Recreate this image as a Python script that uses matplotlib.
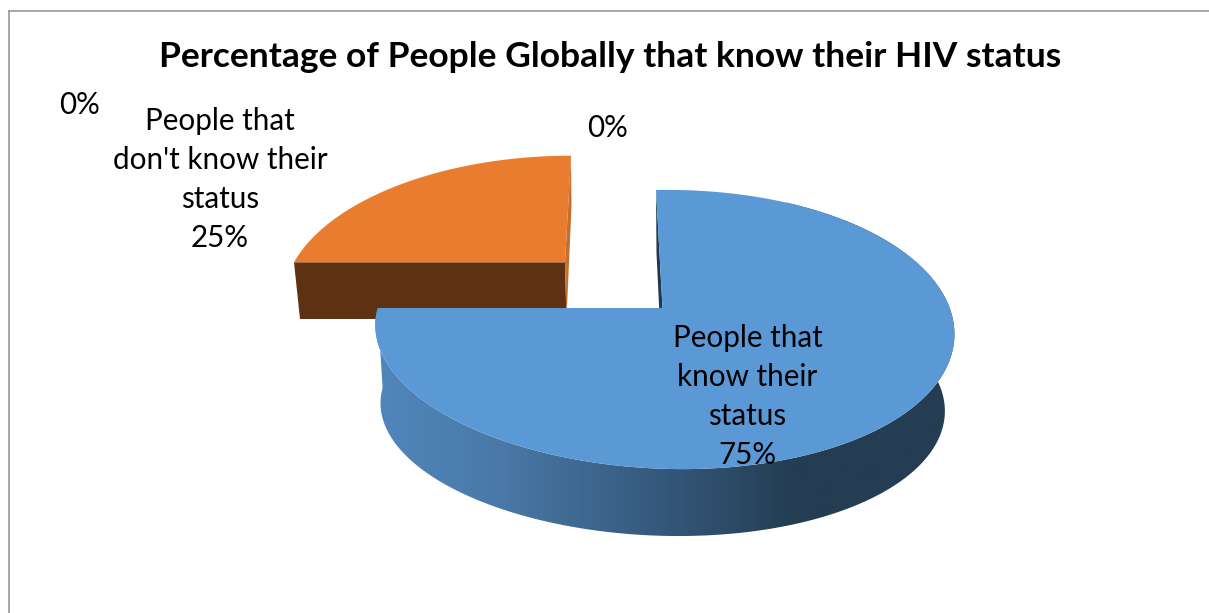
import numpy as np
import matplotlib
matplotlib.use("Agg")
import matplotlib.pyplot as plt
from matplotlib.colors import LinearSegmentedColormap
from matplotlib.patches import Polygon

title = "Percentage of People Globally that know their HIV status"
categories = ["People that\nknow their\nstatus", "People that\ndon't know their\nstatus", "", ""]
values = [75, 25, 0, 0]

plt.rcParams["font.family"] = ["Lato", "DejaVu Sans"]

fig = plt.figure(figsize=(12.09, 6.13), dpi=100)
ax = fig.add_axes([0, 0, 1, 1])
ax.set_xlim(0, 1209)
ax.set_ylim(613, 0)
ax.axis("off")


# perspective view of a flat disc, theta runs clockwise from 12 o'clock
def surface(theta, apex, rx, far, near, lean, side=0.0, roll=0.0):
    a = (near - far) / (near + far)
    ry = far * (1 + a)
    u = np.sin(theta)
    v = np.cos(theta)
    s = 1 / (1 + a * v + side * u)
    return apex[0] + (rx * u + lean * (1 + a) * v) * s, apex[1] - ry * v * s * (1 + roll * u)


# wrapped data label, one baseline per line
def data_label(x, y, category, value):
    lines = category.split("\n") if category else []
    lines.append(f"{value}%")
    for i, line in enumerate(lines):
        ax.text(x, y + 39 * i, line, fontsize=21.3, ha="center", va="baseline", color="black", zorder=8)


blue_top = dict(apex=(662.5, 308), rx=286, far=118, near=161, lean=-6.5, side=-0.004, roll=0.035)
blue_bot = dict(apex=(663, 388), rx=279, far=110, near=148, lean=-6.5, side=0.005, roll=0.03)
orange_top = dict(apex=(565, 262.3), rx=271, far=106.6, near=177, lean=6)
orange_bot = dict(apex=(566.5, 319), rx=266.5, far=112, near=177, lean=5)

# slice angles come from the shares
edges = np.cumsum([0] + values[:2]) / sum(values) * 2 * np.pi
blue_t = np.linspace(edges[0], edges[1], 300)
orange_t = np.linspace(edges[1], edges[2], 120)

# orange slice first, it sits behind the blue one
x0, y0 = surface(orange_t[0], **orange_top)
x1, y1 = surface(orange_t[0], **orange_bot)
ax.add_patch(Polygon([(x0, y0), (x1, y1), orange_bot["apex"], orange_top["apex"]],
                     closed=True, fc="#5f3113", ec="none", zorder=2))
x0, y0 = surface(orange_t[-1], **orange_top)
x1, y1 = surface(orange_t[-1], **orange_bot)
ax.add_patch(Polygon([(x0, y0), (x1, y1), orange_bot["apex"], orange_top["apex"]],
                     closed=True, fc="#c4702f", ec="none", zorder=2))
xs, ys = surface(orange_t, **orange_top)
ax.add_patch(Polygon(np.column_stack([np.r_[orange_top["apex"][0], xs], np.r_[orange_top["apex"][1], ys]]),
                     closed=True, fc="#ea7c30", ec="none", zorder=3))

# outer wall of the blue slice, shaded left to right
# the part near 12 o'clock is behind the top face, so it starts further round
wall_t = blue_t[blue_t > np.pi / 6]
xt, yt = surface(wall_t, **blue_top)
xb, yb = surface(wall_t, **blue_bot)
wall = Polygon(np.column_stack([np.r_[xt, xb[::-1]], np.r_[yt, yb[::-1]]]),
               closed=True, fc="none", ec="none", transform=ax.transData)
ax.add_patch(wall)
shade = LinearSegmentedColormap.from_list("wall", [
    (0.0, "#5087bc"), (0.21, "#4a79a8"), (0.49, "#35597c"), (0.72, "#243d53"), (1.0, "#243d53")])
img = ax.imshow(np.linspace(0, 1, 256).reshape(1, -1), cmap=shade, aspect="auto",
                extent=(375, 955, 545, 180), zorder=4)
img.set_clip_path(wall)
ax.set_xlim(0, 1209)
ax.set_ylim(613, 0)

# cut face at 12 o'clock
x0, y0 = surface(blue_t[0], **blue_top)
x1, y1 = surface(blue_t[0], **blue_bot)
ax.add_patch(Polygon([(x0, y0), (x1, y1 - 25), blue_bot["apex"], blue_top["apex"]],
                     closed=True, fc="#20394e", ec="none", zorder=5))

xt, yt = surface(blue_t, **blue_top)
ax.add_patch(Polygon(np.column_stack([np.r_[blue_top["apex"][0], xt], np.r_[blue_top["apex"][1], yt]]),
                     closed=True, fc="#5b99d6", ec="none", zorder=6))

# chart frame, open on the right and at the bottom
ax.plot([9, 9], [613, 10.5], color="#8f8f8f", lw=1.1, zorder=1, solid_capstyle="projecting")
ax.plot([9, 1209], [10.5, 10.5], color="#8f8f8f", lw=1.1, zorder=1, solid_capstyle="projecting")

ax.text(610.5, 67, title, fontsize=25.5, fontweight="bold", ha="center", va="baseline", color="black", zorder=8)

data_label(747.5, 347, categories[0], values[0])
data_label(220, 130, categories[1], values[1])
data_label(80, 114, categories[2], values[2])
data_label(608, 137, categories[3], values[3])

fig.savefig("out.png", dpi=100, facecolor="white")
